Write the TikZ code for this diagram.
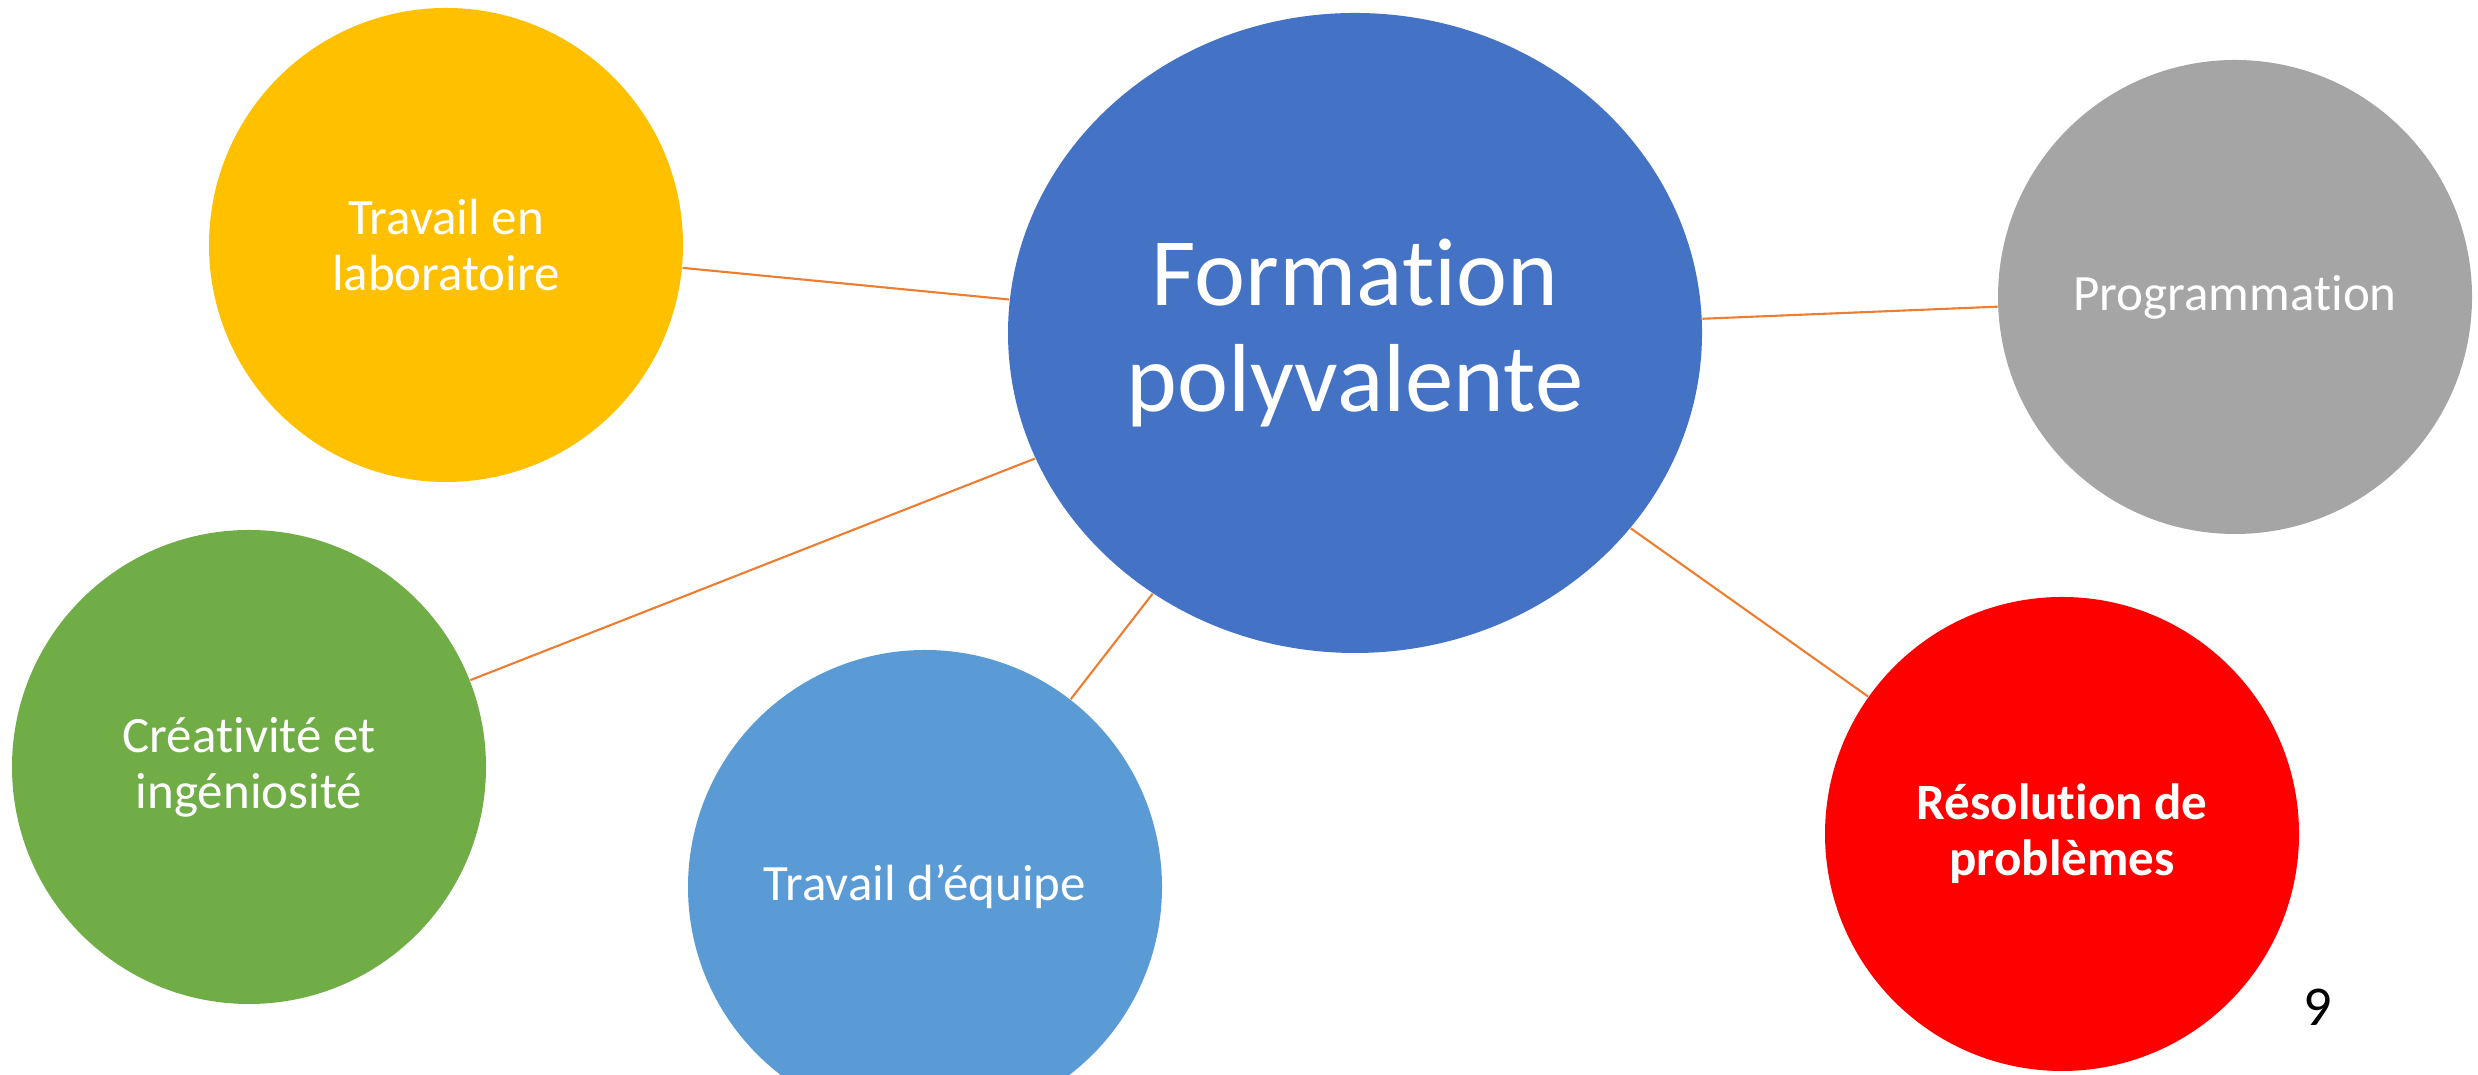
\documentclass[tikz,border=0pt]{standalone}
\usepackage{fontspec}
\setmainfont{Carlito}[Ligatures=NoCommon]
\usepackage{tikz}
\usetikzlibrary{positioning,shapes.geometric}
\definecolor{hubblue}{HTML}{4472C4}
\definecolor{labyellow}{HTML}{FFC000}
\definecolor{proggray}{HTML}{A5A5A5}
\definecolor{creagreen}{HTML}{70AD47}
\definecolor{teamblue}{HTML}{5B9BD5}
\definecolor{probred}{HTML}{FF0000}
\definecolor{linkorange}{HTML}{ED7D31}

\begin{document}
\begin{tikzpicture}[
	bubble/.style={circle, minimum size=4.74cm, inner sep=0pt, text=white, align=center,
		font=\fontsize{14.5}{16}\selectfont},
	hub/.style={ellipse, minimum width=6.94cm, minimum height=6.40cm, inner sep=0pt,
		fill=hubblue, text=white, align=center, font=\fontsize{27.5}{30}\selectfont},
	link/.style={draw=linkorange, line width=0.6pt}
	]
	  \clip (0,0) rectangle (24.78,10.75);
	  \node[hub] (form) at (13.55,7.42) {Formation\\polyvalente};
	  \node[bubble, fill=labyellow] (lab) at (4.46,8.30) {Travail en\\laboratoire};
	  \node[bubble, fill=proggray] (prog) at (22.35,7.78) {Programmation};
	  \node[bubble, fill=creagreen] (crea) at (2.49,3.08) {Créativité et\\ingéniosité};
	  \node[bubble, fill=teamblue] (team) at (9.25,1.88) {Travail d’équipe};
	  \node[bubble, fill=probred, font=\fontsize{14.5}{16}\selectfont\bfseries] (prob) at (20.62,2.41) {Résolution de\\problèmes};
	  \node[font=\fontsize{16}{16}\selectfont] (page) at (23.18,0.68) {9};
	  \path[link]
	  (form) edge (lab)
	         edge (prog)
	         edge (crea)
	         edge (team)
	         edge (prob);
	\end{tikzpicture}
\end{document}
